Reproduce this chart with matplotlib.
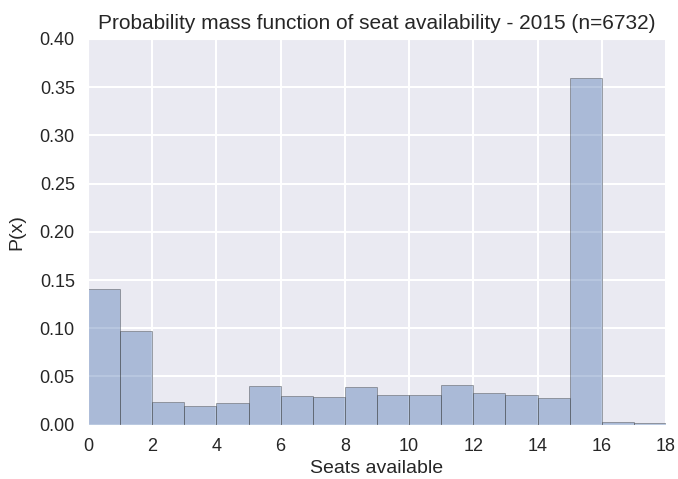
import matplotlib
matplotlib.use('Agg')
import matplotlib.pyplot as plt
import seaborn as sns
import numpy as np

sns.set_style('darkgrid')
plt.rcParams['font.family'] = ['Liberation Sans', 'DejaVu Sans']
plt.rcParams['grid.linewidth'] = 1.5

seats = np.arange(18)
pmf = [0.1405, 0.0975, 0.0239, 0.0191, 0.0225, 0.0398, 0.0294, 0.029, 0.0388,
       0.031, 0.031, 0.041, 0.0325, 0.031, 0.028, 0.360, 0.0025, 0.002]

fig = plt.figure(figsize=(6.78, 4.79), dpi=100)
ax = fig.add_axes([0.1298, 0.1134, 0.8525, 0.8052])
ax.bar(seats, pmf, width=1, align='edge', color='#4C72B0', alpha=0.4,
       edgecolor='#333333', linewidth=0.7)
ax.set_xlim(0, 18)
ax.set_ylim(0, 0.40)
ax.set_xticks(np.arange(0, 19, 2))
ax.set_yticks(np.arange(0, 0.41, 0.05))
ax.tick_params(labelsize=13, colors='#262626', pad=6)
ax.set_xlabel('Seats available', fontsize=14, color='#262626', labelpad=4)
ax.set_ylabel('P(x)', fontsize=14, color='#262626', labelpad=10)
ax.set_title('Probability mass function of seat availability - 2015 (n=6732)',
             fontsize=15, color='#262626', pad=7)
fig.savefig('out.png', dpi=100)
